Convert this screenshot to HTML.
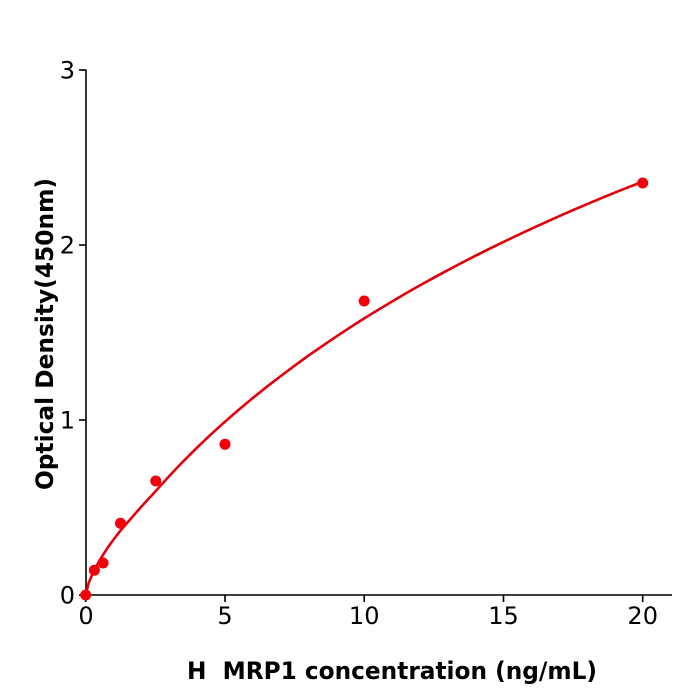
<!DOCTYPE html>
<html>
<head>
<meta charset="utf-8">
<style>
  html, body { margin: 0; padding: 0; background: #ffffff; }
  svg { display: block; }
  text { font-family: "DejaVu Sans", "Liberation Sans", sans-serif; fill: #000; }
</style>
</head>
<body>
<svg width="700" height="700" viewBox="0 0 700 700" xmlns="http://www.w3.org/2000/svg">
  <rect width="700" height="700" fill="#ffffff"/>

  <!-- axes -->
  <line x1="86" y1="69.5" x2="86" y2="596" stroke="#000" stroke-width="1.6"/>
  <line x1="85.2" y1="595" x2="672" y2="595" stroke="#000" stroke-width="1.6"/>

  <!-- y ticks -->
  <g stroke="#000" stroke-width="1.6">
    <line x1="79" y1="595" x2="86" y2="595"/>
    <line x1="79" y1="420" x2="86" y2="420"/>
    <line x1="79" y1="245" x2="86" y2="245"/>
    <line x1="79" y1="70" x2="86" y2="70"/>
  </g>
  <g font-size="24" text-anchor="end">
    <text x="75" y="603.5">0</text>
    <text x="75" y="428.5">1</text>
    <text x="75" y="253.5">2</text>
    <text x="75" y="78.5">3</text>
  </g>

  <!-- x ticks -->
  <g stroke="#000" stroke-width="1.6">
    <line x1="85.7" y1="595" x2="85.7" y2="602"/>
    <line x1="225" y1="595" x2="225" y2="602"/>
    <line x1="364.2" y1="595" x2="364.2" y2="602"/>
    <line x1="503.5" y1="595" x2="503.5" y2="602"/>
    <line x1="642.7" y1="595" x2="642.7" y2="602"/>
  </g>
  <g font-size="24" text-anchor="middle">
    <text x="86" y="624">0</text>
    <text x="225" y="624">5</text>
    <text x="364.2" y="624">10</text>
    <text x="503.5" y="624">15</text>
    <text x="642.7" y="624">20</text>
  </g>

  <!-- fitted curve -->
  <polyline fill="none" stroke="#e0000b" stroke-width="2.6" stroke-linejoin="round" stroke-linecap="round"
    points="85.7,595 88.5,583.4 92.7,573.4 99.6,560.3 106.6,549.3 113.6,539.5 120.5,530.6 127.5,522.5 141.4,506.6 155.3,491.5 169.3,476.0 183.2,461.4 197.1,447.6 211.0,434.3 225.0,421.7 238.9,409.6 252.8,398.0 266.8,386.8 280.7,376.1 294.6,365.7 308.5,355.6 322.5,345.9 336.4,336.4 350.3,327.3 364.2,318.4 378.2,309.8 392.1,301.5 406.0,293.3 419.9,285.4 433.9,277.7 447.8,270.2 461.7,262.9 475.6,255.7 489.6,248.7 503.5,241.9 517.4,235.3 531.3,228.8 545.3,222.4 559.2,216.2 573.1,210.1 587.0,204.2 601.0,198.3 614.9,192.6 628.8,187.1 642.7,181.7"/>

  <!-- data points -->
  <g fill="#f2000a">
    <circle cx="85.7" cy="595" r="5.5"/>
    <circle cx="94.4" cy="570.2" r="5.5"/>
    <circle cx="103.1" cy="563" r="5.5"/>
    <circle cx="120.5" cy="523.3" r="5.5"/>
    <circle cx="155.8" cy="481" r="5.5"/>
    <circle cx="225" cy="444.3" r="5.5"/>
    <circle cx="364.2" cy="301" r="5.5"/>
    <circle cx="642.7" cy="183" r="5.5"/>
  </g>

  <!-- axis labels -->
  <text x="392" y="679" font-size="24" font-weight="bold" text-anchor="middle" textLength="410" lengthAdjust="spacingAndGlyphs">H&#160; MRP1 concentration (ng/mL)</text>
  <text transform="translate(53,334) rotate(-90)" font-size="24" font-weight="bold" text-anchor="middle" textLength="312" lengthAdjust="spacingAndGlyphs">Optical Density(450nm)</text>
</svg>
</body>
</html>
